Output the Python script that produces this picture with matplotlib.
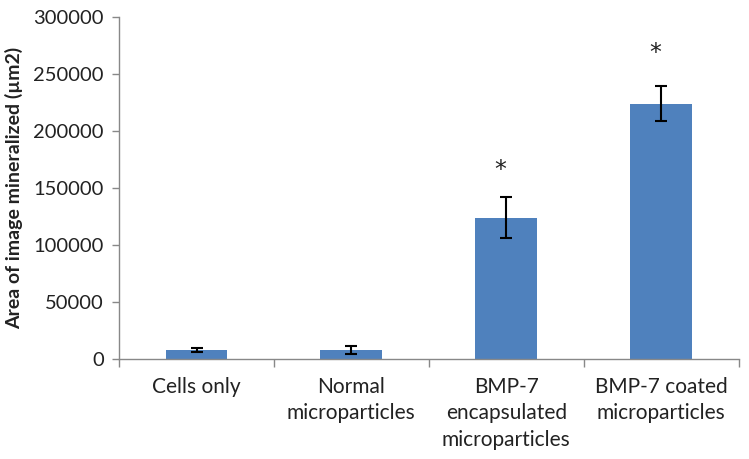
import matplotlib
matplotlib.use("Agg")
import matplotlib.pyplot as plt
import numpy as np

categories = ["Cells only", "Normal\nmicroparticles", "BMP-7\nencapsulated\nmicroparticles", "BMP-7 coated\nmicroparticles"]
values = [8000, 8000, 124000, 224000]
errors = [1800, 3500, 18000, 15300]
sig_marks = ["", "", "*", "*"]
sig_heights = [0, 0, 166000, 268000]
yticks = [0, 50000, 100000, 150000, 200000, 250000, 300000]

plt.rcParams['font.family'] = ['Lato', 'DejaVu Sans']
fig = plt.figure(figsize=(7.49, 4.59), dpi=100)
ax = fig.add_axes([0.159, 0.218, 0.827, 0.745])

x = np.arange(len(categories))
ax.bar(x, values, width=0.4, color="#4F81BD", zorder=2)
ax.errorbar(x, values, yerr=errors, fmt="none", ecolor="black", elinewidth=1.5, capsize=4, capthick=1.5, zorder=3)
for xi, s, h in zip(x, sig_marks, sig_heights):
    if s:
        ax.text(xi - 0.04, h, s, ha="center", va="center", fontsize=17,
                family="DejaVu Sans", color="#222222")

ax.set_xlim(-0.5, len(categories) - 0.5)
ax.set_ylim(0, 300000)
ax.set_yticks(yticks)
ax.set_yticklabels([str(v) for v in yticks], fontsize=14.5, color="#222222")
ax.set_xticks(x)
ax.set_xticklabels(categories, fontsize=15, color="#222222", linespacing=1.4)
ax.set_xticks(np.arange(-0.5, len(categories)), minor=True)
ax.tick_params(axis="x", which="major", length=0, pad=13)
ax.tick_params(axis="x", which="minor", length=6, color="#888888", width=1)
ax.tick_params(axis="y", length=5, color="#888888", width=1, pad=6)
for s in ["top", "right"]:
    ax.spines[s].set_visible(False)
for s in ["left", "bottom"]:
    ax.spines[s].set_color("#888888")
    ax.spines[s].set_linewidth(1)
ax.set_ylabel("Area of image mineralized (µm2)", fontsize=14, fontweight="bold", color="#222222", labelpad=7)

fig.savefig("out.png", dpi=100)
